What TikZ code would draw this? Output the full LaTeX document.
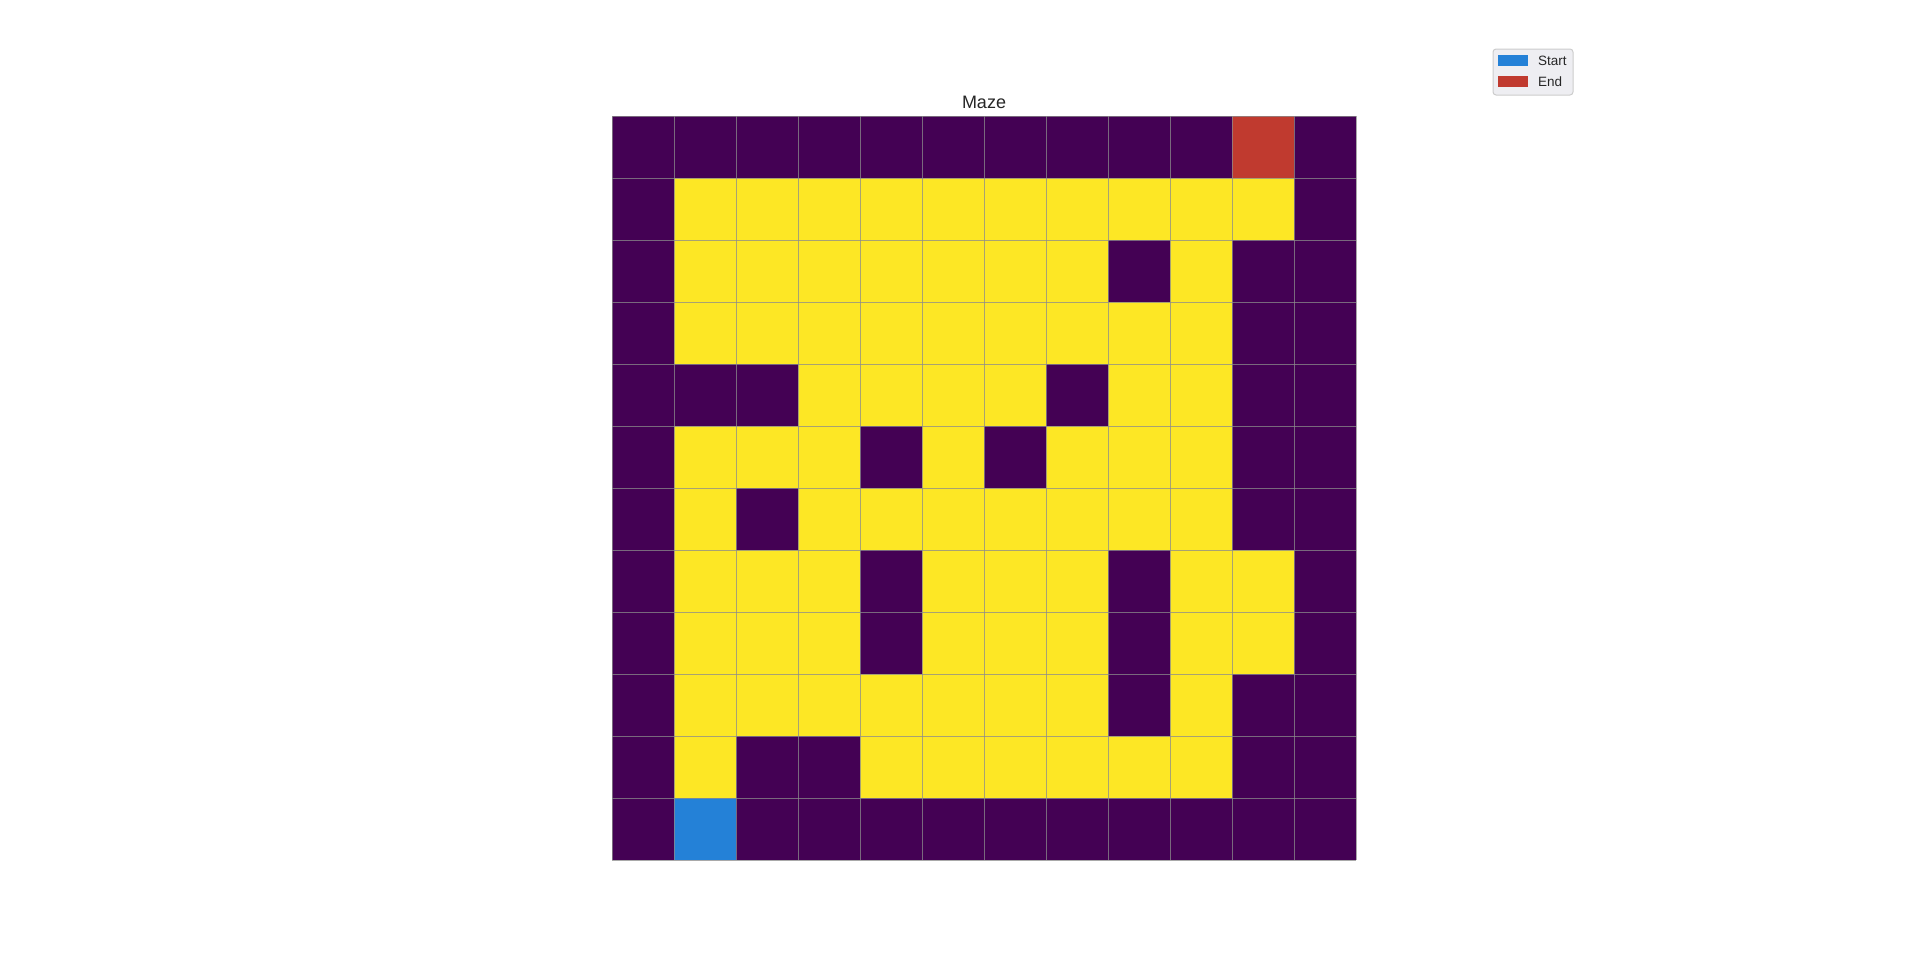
\documentclass[tikz,border=0pt]{standalone}
\usepackage{fontspec}
\setmainfont{Liberation Sans}
\definecolor{c0}{HTML}{440154}
\definecolor{c1}{HTML}{FDE725}
\definecolor{c2}{HTML}{2481D7}
\definecolor{c3}{HTML}{C03A2F}
\definecolor{legbg}{HTML}{EEEEF2}
\definecolor{legedge}{HTML}{CCCCCC}
\definecolor{gridc}{HTML}{8C8C8C}
\definecolor{txt}{HTML}{262626}
\begin{document}
\begin{tikzpicture}[x=1pt,y=-1pt,
  gridline/.style={draw=gridc, line width=1pt, opacity=0.75},
  legtext/.style={anchor=west, inner sep=0pt, font=\fontsize{13.5}{15}\selectfont, text=txt}]
\useasboundingbox (0,0) rectangle (1920,967);
\foreach \row [count=\r from 0] in {
  {0,0,0,0,0,0,0,0,0,0,3,0},
  {0,1,1,1,1,1,1,1,1,1,1,0},
  {0,1,1,1,1,1,1,1,0,1,0,0},
  {0,1,1,1,1,1,1,1,1,1,0,0},
  {0,0,0,1,1,1,1,0,1,1,0,0},
  {0,1,1,1,0,1,0,1,1,1,0,0},
  {0,1,0,1,1,1,1,1,1,1,0,0},
  {0,1,1,1,0,1,1,1,0,1,1,0},
  {0,1,1,1,0,1,1,1,0,1,1,0},
  {0,1,1,1,1,1,1,1,0,1,0,0},
  {0,1,0,0,1,1,1,1,1,1,0,0},
  {0,2,0,0,0,0,0,0,0,0,0,0}} {
  \foreach \v [count=\c from 0] in \row {
    \fill[c\v] ({612+\c*62},{116+\r*62}) rectangle ++(62,62);
  }
}
\foreach \i in {0,...,12} {
  \draw[gridline] ({612+\i*62},116) -- ({612+\i*62},860);
  \draw[gridline] (612,{116+\i*62}) -- (1356,{116+\i*62});
}
\node[font=\fontsize{18}{20}\selectfont, text=txt] (title) at (984,102) {Maze};
\draw[fill=legbg, draw=legedge, line width=1pt, rounded corners=3pt] (1493,49) rectangle (1573,95);
\fill[c2] (1498,55) rectangle (1528,66);
\fill[c3] (1498,76) rectangle (1528,87);
\node[legtext] (lstart) at (1538,60.5) {Start};
\node[legtext] (lend) at (1538,81.5) {End};
\end{tikzpicture}
\end{document}
